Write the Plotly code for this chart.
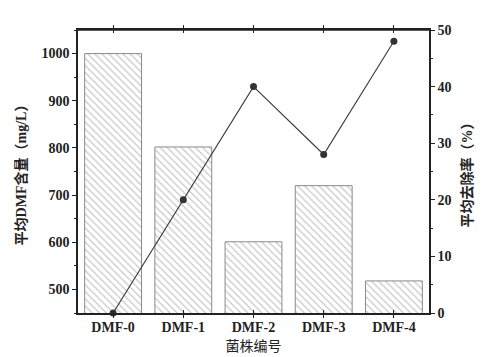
import plotly.graph_objects as go

categories = ["DMF-0", "DMF-1", "DMF-2", "DMF-3", "DMF-4"]
dmf_content = [1000, 802, 601, 720, 518]
removal_rate = [0, 20, 40, 28, 48]

left_ticks = [500, 600, 700, 800, 900, 1000]
right_ticks = [0, 10, 20, 30, 40, 50]

tick_font = dict(family="Liberation Serif", size=14, color="#222", weight="bold")
title_font_bold = dict(family="Liberation Serif, Noto Sans CJK SC", size=14, color="#222", weight="bold")

fig = go.Figure()
fig.add_trace(go.Bar(
    x=categories, y=dmf_content, width=0.81,
    marker=dict(color="white", line=dict(color="#8a8a8a", width=1),
                pattern=dict(shape="\\", fgcolor="#8a8a8a", bgcolor="white", size=5, solidity=0.22)),
    yaxis="y", showlegend=False,
))
fig.add_trace(go.Scatter(
    x=categories, y=removal_rate, yaxis="y2", mode="lines+markers",
    line=dict(color="#3a3a3a", width=1.1), marker=dict(color="#333", size=7),
    cliponaxis=False, showlegend=False,
))

fig.update_layout(
    width=490, height=357,
    margin=dict(l=70, r=69, t=22, b=52),
    paper_bgcolor="white", plot_bgcolor="white",
    xaxis=dict(
        range=[-0.5, 4.5], showline=True, linecolor="#222", linewidth=1.5, mirror="allticks",
        ticks="inside", ticklen=3, tickcolor="#222",
        tickfont=tick_font,
        title=dict(text="菌株编号", font=dict(family="Noto Sans CJK SC", size=14, color="#222"), standoff=6),
    ),
    yaxis=dict(
        range=[450, 1050], tickvals=left_ticks, showline=True, linecolor="#222", linewidth=1.5,
        ticks="outside", ticklen=4, tickcolor="#222", showgrid=False, zeroline=False,
        minor=dict(ticks="outside", ticklen=2, dtick=50, tick0=450, tickcolor="#222"),
        tickfont=tick_font,
        title=dict(text="平均DMF含量（mg/L）", font=title_font_bold, standoff=12),
    ),
    yaxis2=dict(
        range=[0, 50], tickvals=right_ticks, overlaying="y", side="right",
        showline=True, linecolor="#222", linewidth=1.5,
        ticks="outside", ticklen=4, tickcolor="#222", showgrid=False, zeroline=False,
        minor=dict(ticks="outside", ticklen=2, dtick=5, tickcolor="#222"),
        tickfont=tick_font,
        title=dict(text="平均去除率（%）", font=title_font_bold, standoff=12),
    ),
    shapes=[dict(type="line", xref="paper", yref="paper", x0=0, x1=1, y0=1, y1=1,
                 line=dict(color="#222", width=1.5))],
)

fig.write_html("out.html")
